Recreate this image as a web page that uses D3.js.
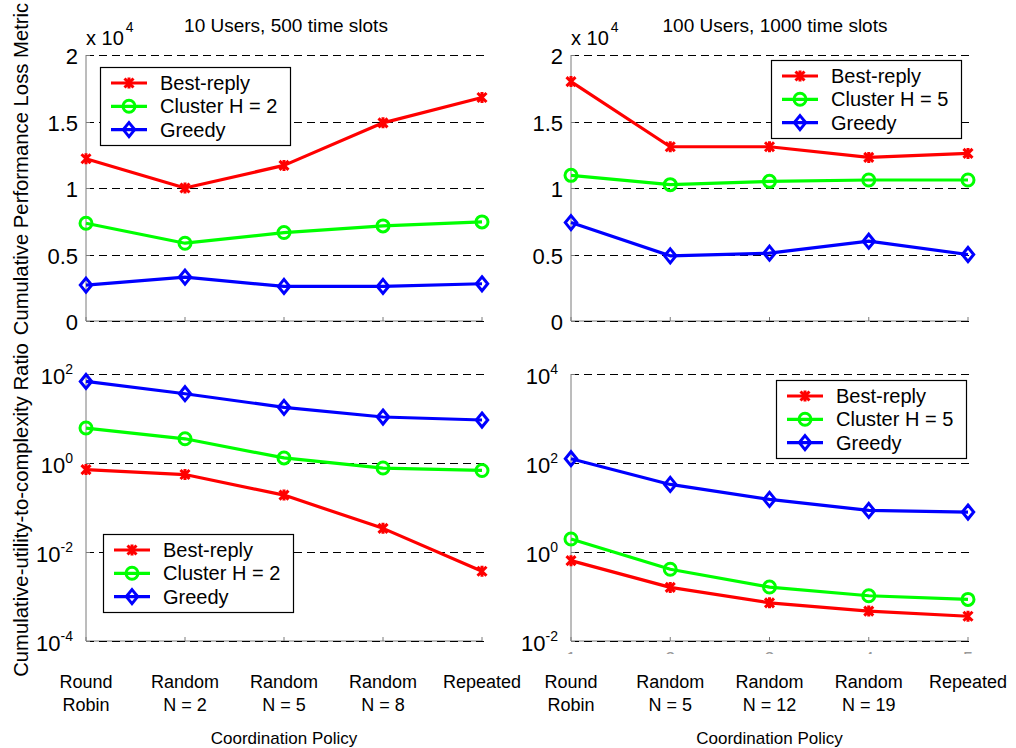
<!DOCTYPE html>
<html>
<head>
<meta charset="utf-8">
<script src="https://cdn.jsdelivr.net/npm/d3@7"></script>
<style>
  body { margin: 0; background: #fff; }
  svg { font-family: "Liberation Sans", Arial, sans-serif; }
</style>
</head>
<body>
<div id="chart"></div>
<script>
// categories (two text lines each)
const catsLeft = [["Round", "Robin"], ["Random", "N = 2"], ["Random", "N = 5"], ["Random", "N = 8"], ["Repeated", ""]]
const catsRight = [["Round", "Robin"], ["Random", "N = 5"], ["Random", "N = 12"], ["Random", "N = 19"], ["Repeated", ""]]

// cumulative performance loss metric
const lossLeftBest = [12200, 10000, 11700, 14900, 16800]
const lossLeftCluster = [7350, 5850, 6650, 7150, 7450]
const lossLeftGreedy = [2700, 3300, 2600, 2600, 2800]
const lossRightBest = [18000, 13100, 13100, 12300, 12600]
const lossRightCluster = [10950, 10250, 10500, 10600, 10600]
const lossRightGreedy = [7400, 4900, 5100, 6000, 5000]

// cumulative utility-to-complexity ratio
const ratioLeftBest = [0.71, 0.55, 0.19, 0.034, 0.0037]
const ratioLeftCluster = [6.1, 3.5, 1.3, 0.77, 0.68]
const ratioLeftGreedy = [68, 36, 17.8, 10.8, 9.25]
const ratioRightBest = [0.64, 0.16, 0.072, 0.047, 0.036]
const ratioRightCluster = [1.96, 0.41, 0.163, 0.104, 0.086]
const ratioRightGreedy = [125, 33, 15.2, 8.6, 7.9]

const linTicks = [0, 5000, 10000, 15000, 20000]
const logTicksLeft = [1e-4, 1e-2, 1, 1e2]
const logTicksRight = [1e-2, 1, 1e2, 1e4]

const titles = ["10 Users, 500 time slots", "100 Users, 1000 time slots"]
const legendLeft = ["Best-reply", "Cluster H = 2", "Greedy"]
const legendRight = ["Best-reply", "Cluster H = 5", "Greedy"]
const colors = ["#ff0000", "#00ff00", "#0000ff"]
const markers = ["star", "circle", "diamond"]

const W = 1016, H = 748
const svg = d3.select("#chart").append("svg")
    .attr("width", W).attr("height", H)

const axisGray = "#7a7a7a"

function drawMarker(g, type, x, y, color){
    if(type == "star"){
        let s = 4.5
        g.append("path")
            .attr("d", `M${x-s},${y-s}L${x+s},${y+s}M${x-s},${y+s}L${x+s},${y-s}M${x},${y-s-1}L${x},${y+s+1}`)
            .attr("stroke", color).attr("stroke-width", 3).attr("fill", "none")
    }else if(type == "circle"){
        g.append("circle").attr("cx", x).attr("cy", y).attr("r", 6)
            .attr("stroke", color).attr("stroke-width", 3).attr("fill", "none")
    }else{
        g.append("path")
            .attr("d", `M${x},${y-7}L${x+5.7},${y}L${x},${y+7}L${x-5.7},${y}Z`)
            .attr("stroke", color).attr("stroke-width", 3).attr("fill", "none")
    }
}

function drawPanel(p){
    const g = svg.append("g")
    const x = d3.scalePoint().domain(d3.range(5)).range([p.x0, p.x1])
    const y = p.log
        ? d3.scaleLog().domain(p.domain).range([p.y1, p.y0])
        : d3.scaleLinear().domain(p.domain).range([p.y1, p.y0])

    // axis lines
    g.append("line").attr("x1", p.x0).attr("x2", p.x0).attr("y1", p.y0).attr("y2", p.y1)
        .attr("stroke", axisGray).attr("stroke-width", 1)
    g.append("line").attr("x1", p.x0).attr("x2", p.x1).attr("y1", p.y1).attr("y2", p.y1)
        .attr("stroke", axisGray).attr("stroke-width", 1)
    // x ticks (pointing up)
    d3.range(5).forEach(i => {
        g.append("line").attr("x1", x(i)).attr("x2", x(i)).attr("y1", p.y1).attr("y2", p.y1 - 4)
            .attr("stroke", axisGray)
    })

    // grid + y ticks + labels
    p.ticks.forEach(t => {
        let ty = Math.round(y(t)) + 0.5
        g.append("line").attr("x1", p.x0).attr("x2", p.x1 + 2).attr("y1", ty).attr("y2", ty)
            .attr("stroke", "#000").attr("stroke-width", 1).attr("stroke-dasharray", "8,5")
        g.append("line").attr("x1", p.x0).attr("x2", p.x0 + 4).attr("y1", ty).attr("y2", ty)
            .attr("stroke", axisGray)
        if(p.log){
            let e = Math.round(Math.log10(t))
            let txt = g.append("text").attr("x", p.x0 - 13).attr("y", ty + 9)
                .attr("text-anchor", "end").attr("font-size", 22)
            txt.append("tspan").text("10")
            txt.append("tspan").attr("dy", -10).attr("font-size", 14).text(e)
        }else{
            g.append("text").attr("x", p.x0 - 8).attr("y", ty + 8)
                .attr("text-anchor", "end").attr("font-size", 22)
                .text(d3.format("~g")(t / 10000))
        }
    })

    if(!p.log){
        let txt = g.append("text").attr("x", p.x0).attr("y", 45).attr("font-size", 20)
        txt.append("tspan").text("x 10")
        txt.append("tspan").attr("dy", -13).attr("dx", 2).attr("font-size", 14).text("4")
    }
    if(p.title){
        g.append("text").attr("x", p.titleX).attr("y", 32).attr("text-anchor", "middle")
            .attr("font-size", 19).text(p.title)
    }

    // series
    const line = d3.line().x((d, i) => x(i)).y(d => y(d))
    p.series.forEach((s, k) => {
        g.append("path").datum(s).attr("d", line)
            .attr("fill", "none").attr("stroke", colors[k]).attr("stroke-width", 3.2)
            .attr("stroke-linejoin", "round")
        s.forEach((v, i) => drawMarker(g, markers[k], x(i), y(v), colors[k]))
    })

    // legend
    const L = p.legend
    g.append("rect").attr("x", L.x + 0.5).attr("y", L.y + 0.5).attr("width", 190).attr("height", 78)
        .attr("fill", "#fff").attr("stroke", "#000").attr("stroke-width", 1.2)
    L.names.forEach((n, k) => {
        let cy = L.y + 16 + k * 23.3
        g.append("line").attr("x1", L.x + 11).attr("x2", L.x + 47).attr("y1", cy).attr("y2", cy)
            .attr("stroke", colors[k]).attr("stroke-width", 3.2)
        drawMarker(g, markers[k], L.x + 29, cy, colors[k])
        g.append("text").attr("x", L.x + 60).attr("y", cy + 7).attr("font-size", 20).text(n)
    })

    // category labels
    if(p.cats){
        p.cats.forEach((c, i) => {
            g.append("text").attr("x", x(i)).attr("y", 688).attr("text-anchor", "middle")
                .attr("font-size", 18).text(c[0])
            g.append("text").attr("x", x(i)).attr("y", 711).attr("text-anchor", "middle")
                .attr("font-size", 18).text(c[1])
        })
        g.append("text").attr("x", (p.x0 + p.x1) / 2).attr("y", 744).attr("text-anchor", "middle")
            .attr("font-size", 17).text("Coordination Policy")
    }
    return x
}

drawPanel({x0: 86, x1: 482, y0: 55, y1: 321, log: false, domain: [0, 20000], ticks: linTicks,
    title: titles[0], titleX: 286,
    series: [lossLeftBest, lossLeftCluster, lossLeftGreedy],
    legend: {x: 100, y: 67, names: legendLeft}})
drawPanel({x0: 571, x1: 968, y0: 55, y1: 321, log: false, domain: [0, 20000], ticks: linTicks,
    title: titles[1], titleX: 775,
    series: [lossRightBest, lossRightCluster, lossRightGreedy],
    legend: {x: 771, y: 60, names: legendRight}})
drawPanel({x0: 86, x1: 482, y0: 374, y1: 641, log: true, domain: [1e-4, 1e2], ticks: logTicksLeft,
    series: [ratioLeftBest, ratioLeftCluster, ratioLeftGreedy],
    legend: {x: 103, y: 534, names: legendLeft}, cats: catsLeft})
const xr = drawPanel({x0: 571, x1: 968, y0: 374, y1: 641, log: true, domain: [1e-2, 1e4], ticks: logTicksRight,
    series: [ratioRightBest, ratioRightCluster, ratioRightGreedy],
    legend: {x: 776, y: 380, names: legendRight}, cats: catsRight})

// clipped numeric tick labels peeking under the lower right axes
svg.append("clipPath").attr("id", "peek").append("rect")
    .attr("x", 540).attr("y", 650).attr("width", 460).attr("height", 4)
svg.append("g").attr("clip-path", "url(#peek)")
    .selectAll("text").data(d3.range(5)).join("text")
    .attr("x", i => xr(i)).attr("y", 665).attr("text-anchor", "middle")
    .attr("font-size", 18).attr("fill", "#999").text(i => i + 1)

// y axis titles
svg.append("text").attr("transform", "translate(28,169) rotate(-90)")
    .attr("text-anchor", "middle").attr("font-size", 20.3).text("Cumulative Performance Loss Metric")
svg.append("text").attr("transform", "translate(28,510) rotate(-90)")
    .attr("text-anchor", "middle").attr("font-size", 20.3).text("Cumulative-utility-to-complexity Ratio")
</script>
</body>
</html>
